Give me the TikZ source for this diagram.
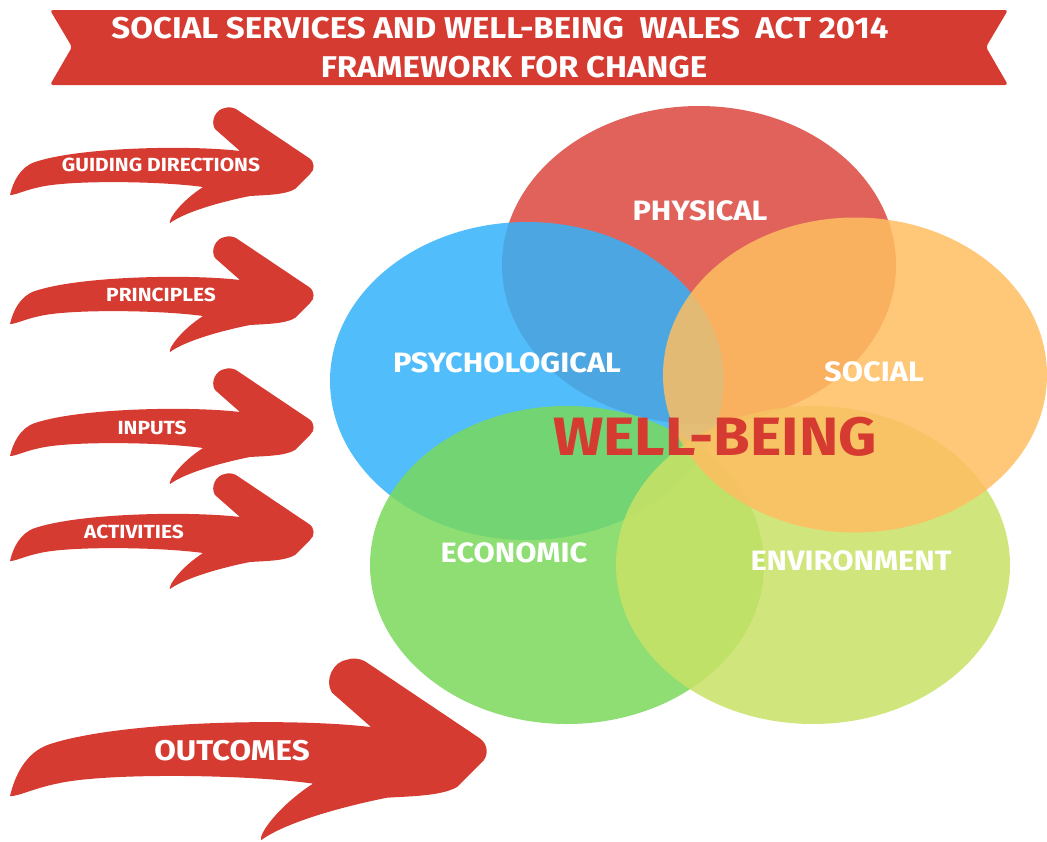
\documentclass[tikz,border=0pt]{standalone}
\usepackage{fontspec}
\newfontfamily\brushfont[FakeStretch=1.1]{Fira Sans}
\usetikzlibrary{shapes}
\definecolor{brushred}{RGB}{214,59,50}
\definecolor{physred}{RGB}{218,71,62}
\definecolor{psychblue}{RGB}{51,178,250}
\definecolor{socorange}{RGB}{254,190,96}
\definecolor{econgreen}{RGB}{122,216,92}
\definecolor{envgreen}{RGB}{200,226,101}
\tikzset{
  ring/.style       = {ellipse, inner sep=0pt, fill opacity=0.85, minimum width=394pt, minimum height=318pt},
  ringlabel/.style  = {text=white, inner sep=0pt, font=\brushfont\bfseries\fontsize{28}{32}\selectfont},
  arrowlabel/.style = {text=white, inner sep=0pt, font=\brushfont\bfseries\fontsize{19}{23}\selectfont},
  titletext/.style  = {text=white, inner sep=0pt, font=\brushfont\bfseries\fontsize{30}{34}\selectfont},
  brusharrow/.pic   = {
    \fill[brushred] (0,88) .. controls (3,75) and (10,60) .. (25,55)
      .. controls (70,40) and (180,38) .. (230,44)
      -- (205,22) .. controls (200,14) and (206,2) .. (215,1)
      .. controls (218,0) and (222,0) .. (226,2)
      -- (299,51) .. controls (305,55) and (305,63) .. (300,67)
      -- (285,82) .. controls (275,88) and (255,88) .. (240,89)
      .. controls (210,95) and (175,105) .. (160,116)
      .. controls (158,113) and (170,95) .. (193,80)
      .. controls (150,74) and (60,73) .. (30,80)
      .. controls (15,83) and (6,88) .. (0,88) -- cycle;
  }
}

\begin{document}
\begin{tikzpicture}[x=1pt,y=-1pt]
\path[use as bounding box] (0,0) rectangle (1047,841);
\clip (0,0) rectangle (1047,841);

% banner
\fill[brushred, rounded corners=3pt] (50,10) -- (1008,10) -- (986,47) -- (1008,85)
  -- (50,85) -- (72,47) -- cycle;
\node[titletext] (title1) at (500,28) {SOCIAL SERVICES AND WELL-BEING\ \ WALES\ \ ACT 2014};
\node[titletext] (title2) at (514,67) {FRAMEWORK FOR CHANGE};

% the five rings
\node[ring, fill=physred]   (physical)      at (699,265) {};
\node[ring, fill=psychblue] (psychological) at (527,381) {};
\node[ring, fill=econgreen] (economic)      at (567,565) {};
\node[ring, fill=envgreen]  (environment)   at (813,565) {};
\node[ring, fill=socorange, minimum width=384pt, minimum height=315pt] (social) at (855,375) {};

\node[ringlabel] (physlabel)  at (700,211) {PHYSICAL};
\node[ringlabel] (psychlabel) at (507,363) {PSYCHOLOGICAL};
\node[ringlabel] (soclabel)   at (874,372) {SOCIAL};
\node[ringlabel] (econlabel)  at (514,553) {ECONOMIC};
\node[ringlabel] (envlabel)   at (851,561) {ENVIRONMENT};
\node[text=brushred, inner sep=0pt, font=\brushfont\bfseries\fontsize{54}{60}\selectfont]
  (wellbeing) at (715,437) {WELL-BEING};

% arrows
\pic (guidearrow)  at (10,107) {brusharrow};
\pic (princarrow)  at (10,236) {brusharrow};
\pic (inputarrow)  at (10,368) {brusharrow};
\pic (actarrow)    at (10,473) {brusharrow};
\pic[scale=1.57] (outarrow) at (10,658) {brusharrow};

\node[arrowlabel] (guiding)    at (161,165) {GUIDING DIRECTIONS};
\node[arrowlabel] (principles) at (161,295) {PRINCIPLES};
\node[arrowlabel] (inputs)     at (152,428) {INPUTS};
\node[arrowlabel] (activities) at (134,532) {ACTIVITIES};
\node[arrowlabel, font=\brushfont\bfseries\fontsize{28.5}{33}\selectfont] (outcomes) at (232,751) {OUTCOMES};
\end{tikzpicture}
\end{document}
